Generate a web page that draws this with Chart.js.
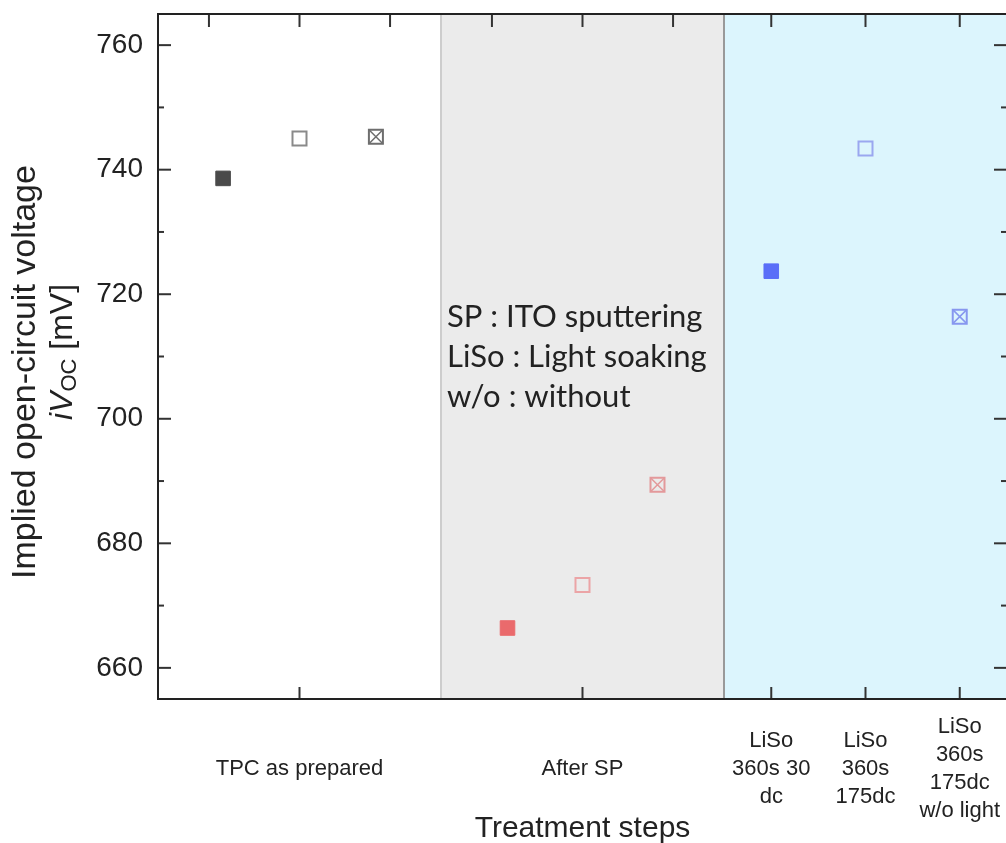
<!DOCTYPE html>
<html>
<head>
<meta charset="utf-8">
<script src="https://cdn.jsdelivr.net/npm/chart.js@4"></script>
<style>
  html, body { margin: 0; padding: 0; background: #fff; overflow: hidden; }
  #wrap { width: 1006px; height: 843px; overflow: hidden; }
  #inner { width: 1012px; height: 843px; }
</style>
</head>
<body>
<div id="wrap"><div id="inner"><canvas id="vocChart" width="1012" height="843"></canvas></div></div>
<script>
// treatment-step axis: tick positions and labels
const stepPositions = [1, 2, 2.667, 3, 3.333];
const stepLabels = [
    'TPC as prepared',
    'After SP',
    ['LiSo', '360s 30', 'dc'],
    ['LiSo', '360s', '175dc'],
    ['LiSo', '360s', '175dc', 'w/o light']
];
const topTickPositions = [0.68, 1, 1.32, 1.68, 2, 2.32, 2.667, 3, 3.333];
const regionEdges = [1.5, 2.5];

const yMajorTicks = [660, 680, 700, 720, 740, 760];
const yMinorTicks = [670, 690, 710, 730, 750];

// iVoc in mV for each sample (filled, open, crossed)
const tpcX = [0.73, 1, 1.27];
const tpcVoc = [738.6, 745.0, 745.3];
const spX = [1.735, 2, 2.265];
const spVoc = [666.4, 673.3, 689.4];
const lisoX = [2.667, 3, 3.333];
const lisoVoc = [723.7, 743.4, 716.4];

const notes = ['SP : ITO sputtering', 'LiSo : Light soaking', 'w/o : without'];

Chart.defaults.font.family = "'Liberation Sans', Arial, sans-serif";
Chart.defaults.color = '#222';

function sampleSets(xs, vs, fill, open, cross) {
    const pts = xs.map((x, i) => ({ x: x, y: vs[i] }));
    return [
        {
            data: [pts[0]], pointStyle: 'rect', pointRadius: 10.3,
            pointBackgroundColor: fill, pointBorderColor: fill, pointBorderWidth: 1
        },
        {
            data: [pts[1], pts[2]], pointStyle: 'rect', pointRadius: 9.9,
            pointBackgroundColor: 'rgba(0,0,0,0)', pointBorderColor: [open, cross], pointBorderWidth: 2
        },
        {
            data: [pts[2]], pointStyle: 'crossRot', pointRadius: 9.9,
            pointBorderColor: cross, pointBorderWidth: 1.5
        }
    ];
}

function vline(ctx, x, y0, y1) {
    ctx.beginPath();
    ctx.moveTo(x, y0);
    ctx.lineTo(x, y1);
    ctx.stroke();
}
function hline(ctx, y, x0, x1) {
    ctx.beginPath();
    ctx.moveTo(x0, y);
    ctx.lineTo(x1, y);
    ctx.stroke();
}

// keep the plot box where the layout puts it, without label overhang padding
function noOverhang(axis) {
    axis.paddingTop = 0;
    axis.paddingBottom = 0;
    axis.paddingLeft = 0;
    axis.paddingRight = 0;
}

const decor = {
    id: 'decor',
    beforeDatasetsDraw(chart) {
        const { ctx, chartArea: a, scales: { x, y } } = chart;
        const g0 = x.getPixelForValue(regionEdges[0]);
        const g1 = x.getPixelForValue(regionEdges[1]);
        ctx.save();
        ctx.fillStyle = '#ebebeb';
        ctx.fillRect(g0, a.top, g1 - g0, a.bottom - a.top);
        ctx.fillStyle = '#dcf5fd';
        ctx.fillRect(g1, a.top, a.right - g1, a.bottom - a.top);
        ctx.lineWidth = 2;
        ctx.strokeStyle = '#cdcdcd';
        vline(ctx, g0, a.top, a.bottom);
        ctx.strokeStyle = '#999';
        vline(ctx, g1, a.top, a.bottom);

        // abbreviations
        ctx.fillStyle = '#222';
        ctx.font = "31px Lato, 'Noto Sans', sans-serif";
        ctx.textAlign = 'left';
        ctx.textBaseline = 'alphabetic';
        const base = y.getPixelForValue(714.8);
        notes.forEach((t, i) => ctx.fillText(t, g0 + 6, base + i * 40));
        ctx.restore();
    },
    afterDatasetsDraw(chart) {
        const { ctx, chartArea: a, scales: { x, y } } = chart;
        ctx.save();
        ctx.strokeStyle = '#333';
        ctx.lineWidth = 2;
        yMajorTicks.forEach(v => {
            const p = y.getPixelForValue(v);
            hline(ctx, p, a.left, a.left + 13);
            hline(ctx, p, a.right - 13, a.right);
        });
        yMinorTicks.forEach(v => {
            const p = y.getPixelForValue(v);
            hline(ctx, p, a.left, a.left + 6);
            hline(ctx, p, a.right - 6, a.right);
        });
        topTickPositions.forEach(v => vline(ctx, x.getPixelForValue(v), a.top, a.top + 13));
        stepPositions.forEach(v => vline(ctx, x.getPixelForValue(v), a.bottom - 12, a.bottom));

        // frame
        ctx.strokeStyle = '#222';
        ctx.lineWidth = 2;
        ctx.strokeRect(a.left, a.top, a.right - a.left, a.bottom - a.top);
        ctx.restore();
    },
    afterDraw(chart) {
        const { ctx } = chart;
        ctx.save();
        ctx.fillStyle = '#222';
        ctx.textBaseline = 'middle';

        // first title line
        ctx.save();
        ctx.translate(26, 372);
        ctx.rotate(-Math.PI / 2);
        ctx.textAlign = 'center';
        ctx.font = "34px 'Liberation Sans', Arial, sans-serif";
        ctx.fillText('Implied open-circuit voltage', 0, 0);
        ctx.restore();

        // second title line: iV_OC [mV]
        const parts = [
            { t: 'iV', f: "italic 32px 'Liberation Sans', Arial, sans-serif", dy: 0 },
            { t: 'OC', f: "22px 'Liberation Sans', Arial, sans-serif", dy: 7 },
            { t: ' [mV]', f: "32px 'Liberation Sans', Arial, sans-serif", dy: 0 }
        ];
        let total = 0;
        parts.forEach(p => { ctx.font = p.f; p.w = ctx.measureText(p.t).width; total += p.w; });
        ctx.translate(63, 352);
        ctx.rotate(-Math.PI / 2);
        ctx.textAlign = 'left';
        let cx = -total / 2;
        parts.forEach(p => {
            ctx.font = p.f;
            ctx.fillText(p.t, cx, p.dy);
            cx += p.w;
        });
        ctx.restore();
    }
};

const ctx = document.getElementById('vocChart').getContext('2d');
new Chart(ctx, {
    type: 'scatter',
    data: {
        datasets: [
            ...sampleSets(tpcX, tpcVoc, '#4a4a4a', '#8a8a8a', '#6e6e6e'),
            ...sampleSets(spX, spVoc, '#ea6a6c', '#eba4a6', '#e3999b'),
            ...sampleSets(lisoX, lisoVoc, '#5a6ef8', '#9aa7f0', '#8797ef')
        ]
    },
    options: {
        responsive: false,
        animation: false,
        layout: { autoPadding: false, padding: { top: 14, right: 5, bottom: 0, left: 0 } },
        plugins: {
            legend: { display: false },
            tooltip: { enabled: false }
        },
        scales: {
            x: {
                type: 'linear',
                min: 0.5,
                max: 3.5,
                grid: { display: false, drawTicks: false },
                border: { display: false },
                afterBuildTicks: axis => { axis.ticks = stepPositions.map(v => ({ value: v })); },
                afterFit: axis => { axis.height = 144; noOverhang(axis); },
                ticks: {
                    autoSkip: false,
                    maxRotation: 0,
                    crossAlign: 'center',
                    padding: 28,
                    font: { size: 22, lineHeight: 1.27 },
                    callback: (v, i) => stepLabels[i]
                },
                title: {
                    display: true,
                    text: 'Treatment steps',
                    font: { size: 30, lineHeight: 0.93 },
                    padding: { top: 0, bottom: 0 }
                }
            },
            y: {
                min: 655,
                max: 765,
                grid: { display: false, drawTicks: false },
                border: { display: false },
                afterBuildTicks: axis => { axis.ticks = yMajorTicks.map(v => ({ value: v })); },
                afterFit: axis => { axis.width = 158; noOverhang(axis); },
                ticks: {
                    padding: 15,
                    font: { size: 28 }
                }
            }
        }
    },
    plugins: [decor]
});
</script>
</body>
</html>
